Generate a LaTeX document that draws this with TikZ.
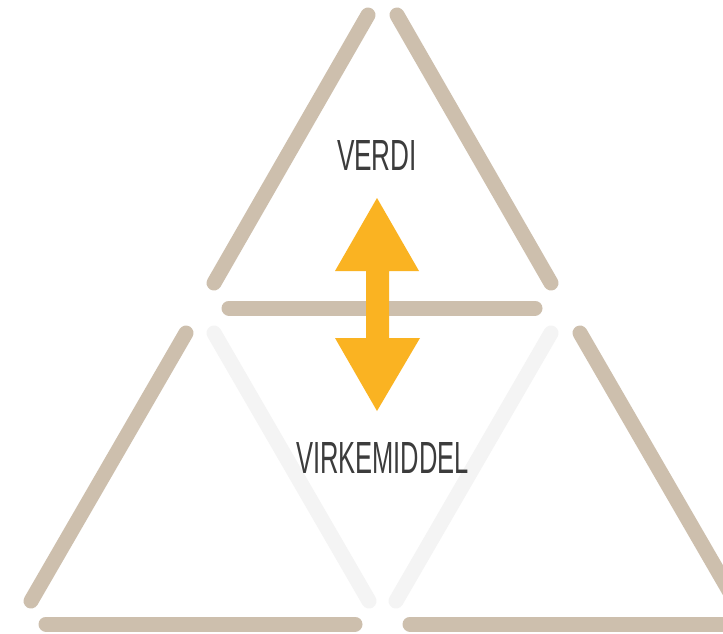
\documentclass[tikz,border=0pt]{standalone}
\usepackage{fontspec}
\setmainfont{Liberation Sans}
\definecolor{beige}{HTML}{CDBFAD}
\definecolor{paleg}{HTML}{F4F4F4}
\definecolor{orng}{HTML}{FAB322}
\definecolor{txt}{HTML}{3C3C3C}
\begin{document}
\begin{tikzpicture}[x=1pt,y=-1pt,
  side/.style={line width=15pt,line cap=round,draw=beige},
  faint/.style={line width=15pt,line cap=round,draw=paleg},
  lbl/.style={inner sep=0pt,text=txt,font=\fontsize{42}{42}\selectfont}]
\useasboundingbox[fill=white] (0,0) rectangle (723,633);
% top triangle
\coordinate (t1) at (214,283); \coordinate (t2) at (368,15);
\coordinate (t3) at (397,15);  \coordinate (t4) at (551,283);
\coordinate (t5) at (229,308); \coordinate (t6) at (535,308);
\draw[side] (t1) -- (t2);
\draw[side] (t3) -- (t4);
\draw[side] (t5) -- (t6);
% lower left triangle
\coordinate (l1) at (31,601);  \coordinate (l2) at (186,333);
\coordinate (l3) at (214,333); \coordinate (l4) at (369,601);
\coordinate (l5) at (46,624);  \coordinate (l6) at (355,624);
\draw[side] (l1) -- (l2);
\draw[faint] (l3) -- (l4);
\draw[side] (l5) -- (l6);
% lower right triangle
\coordinate (r1) at (396,601); \coordinate (r2) at (551,333);
\coordinate (r3) at (580,333); \coordinate (r4) at (735,601);
\coordinate (r5) at (410,624); \coordinate (r6) at (745,624);
\draw[faint] (r1) -- (r2);
\draw[side] (r3) -- (r4);
\draw[side] (r5) -- (r6);
% double arrow
\fill[orng] (377,198) -- (419,271) -- (389,271) -- (389,338) -- (420,338)
  -- (377,411) -- (335,338) -- (366,338) -- (366,271) -- (335,271) -- cycle;
% labels
\node[lbl] (verdi) at (377,155) {\resizebox{80pt}{30pt}{VERDI}};
\node[lbl] (virk) at (382.5,457.5) {\resizebox{173pt}{31pt}{VIRKEMIDDEL}};
\end{tikzpicture}
\end{document}
